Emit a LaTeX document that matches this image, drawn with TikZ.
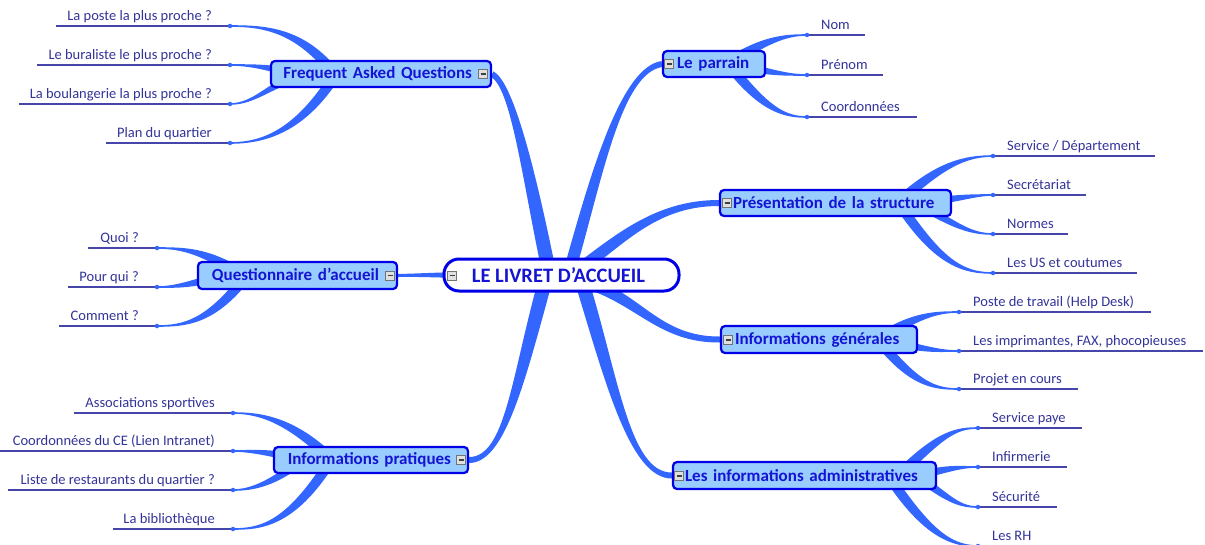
\documentclass[tikz,border=0pt]{standalone}
\usepackage{fontspec}
\setmainfont{Carlito}
\usetikzlibrary{calc,backgrounds}
\definecolor{br}{RGB}{51,102,255}
\definecolor{nfill}{RGB}{153,204,255}
\definecolor{nbord}{RGB}{0,0,230}
\definecolor{ntext}{RGB}{20,20,210}
\definecolor{ltext}{RGB}{51,51,153}
\definecolor{lline}{RGB}{70,70,170}
\newcommand\tbranch[6]{\fill[br] ($#1!#5!90:#2$) .. controls ($#2!#5!-90:#1$) and ($#3!#6!90:#4$) .. ($#4!#6!-90:#3$) -- ($#4!#6!90:#3$) .. controls ($#3!#6!-90:#4$) and ($#2!#5!90:#1$) .. ($#1!#5!-90:#2$) -- cycle;}
\begin{document}
\begin{tikzpicture}[x=1pt,y=-1pt,
  mainnode/.style={draw=nbord, line width=2.2pt, fill=nfill, rounded corners=4pt, text=ntext,
     font=\fontsize{17}{19}\selectfont\bfseries, inner xsep=2pt, inner ysep=0pt},
  centernode/.style={draw=nbord, line width=3pt, fill=white, rounded corners=15pt, text=ntext,
     font=\fontsize{20.5}{22}\selectfont\bfseries, minimum width=235pt, minimum height=32pt, inner sep=0pt},
  leaf/.style={text=ltext, font=\fontsize{14.5}{16}\selectfont, inner sep=0pt},
  dot/.style={circle, fill=br, inner sep=0pt, minimum size=4.5pt},
  leafline/.style={draw=lline, line width=1.3pt},
  mbox/.style={draw=black!55, fill=black!12, line width=0.8pt, minimum size=9pt, inner sep=0pt,
     path picture={\draw[black!75,line width=1.3pt] ($(path picture bounding box.west)+(2,0)$) -- ($(path picture bounding box.east)+(-2,0)$);}}
]
\useasboundingbox (0,0) rectangle (1205,544);

% central node
\node[centernode] (c) at (561.5,275) {\hspace*{-6pt}LE LIVRET D'ACCUEIL};
\node[mbox] (cm) at (452,275.5) {};

% main nodes
\node[mainnode, minimum height=26pt, text width=216pt, align=right] (faq) at (381,74) {Frequent Asked Questions\hspace*{17pt}};
\node[mainnode, minimum height=26pt, text width=98pt, align=left] (par) at (714,64) {\hspace*{12pt}Le parrain};
\node[mainnode, minimum height=26pt, text width=227pt, align=left] (pres) at (835.5,203) {\hspace*{11pt}Présentation de la structure};
\node[mainnode, minimum height=27pt, text width=192pt, align=left] (gen) at (819,339.5) {\hspace*{12pt}Informations générales};
\node[mainnode, minimum height=27pt, text width=259pt, align=left] (adm) at (804.5,475.5) {\hspace*{10pt}Les informations administratives};
\node[mainnode, minimum height=27pt, text width=195pt, align=right] (q) at (297.5,275.5) {Questionnaire d'accueil\hspace*{16pt}};
\node[mainnode, minimum height=26pt, text width=190pt, align=right] (prat) at (371,460) {Informations pratiques\hspace*{15pt}};

\node[mbox] (faqm) at (483,74) {};
\node[mbox] (parm) at (669,64) {};
\node[mbox] (presm) at (727,203) {};
\node[mbox] (genm) at (728,340) {};
\node[mbox] (admm) at (679,476) {};
\node[mbox] (qm) at (390,275.5) {};
\node[mbox] (pratm) at (461,460) {};

% left leaves
\foreach \n/\x/\y/\s/\t in {
 fa/230/26/56/{La poste la plus proche ?},
 fb/230/65/37/{Le buraliste le plus proche ?},
 fc/230/104/19/{La boulangerie la plus proche ?},
 fd/230/143/106/{Plan du quartier},
 qa/157/248/88/{Quoi ?},
 qb/157/287/68/{Pour qui ?},
 qc/157/326/59/{Comment ?},
 ra/233/413/74/{Associations sportives},
 rb/233/451/0/{Coordonnées du CE (Lien Intranet)},
 rc/233/490/8/{Liste de restaurants du quartier ?},
 rd/233/529/113/{La bibliothèque}}
{\coordinate (e\n) at (\s,\y);
 \draw[leafline] (e\n) -- (\x,\y);
 \node[dot] (\n) at (\x,\y) {};
 \node[leaf, anchor=base east] (t\n) at (\x-18,\y-6) {\t};}

% right leaves
\foreach \n/\x/\y/\s/\t in {
 pa/807/35/865/{Nom},
 pb/807/75/883/{Prénom},
 pc/807/117/917/{Coordonnées},
 sa/993/156/1155/{Service / Département},
 sb/993/195/1086/{Secrétariat},
 sc/993/234/1068/{Normes},
 sd/993/273/1137/{Les US et coutumes},
 ga/959/312/1151/{Poste de travail (Help Desk)},
 gb/959/351/1203/{Les imprimantes, FAX, phocopieuses},
 gc/959/389/1078/{Projet en cours},
 aa/978/428/1082/{Service paye},
 ab/978/467/1067/{Infirmerie},
 ac/978/507/1057/{Sécurité},
 ad/978/546/1045/{Les RH}}
{\coordinate (e\n) at (\s,\y);
 \draw[leafline] (\x,\y) -- (e\n);
 \node[dot] (\n) at (\x,\y) {};
 \node[leaf, anchor=base west] (t\n) at (\x+14,\y-6) {\t};}

\begin{scope}[on background layer]
% central branches
\tbranch{(547,262)}{(528,170)}{(512,85)}{(faq.east)}{7pt}{3pt}
\tbranch{(572,262)}{(598,170)}{(622,70)}{(par.west)}{6pt}{3pt}
\tbranch{(585,265)}{(625,235)}{(660,203)}{(pres.west)}{6pt}{3pt}
\tbranch{(588,283)}{(640,300)}{(660,340)}{(gen.west)}{6pt}{3pt}
\tbranch{(582,282)}{(612,380)}{(630,476)}{(adm.west)}{7pt}{3pt}
\tbranch{(545,282)}{(518,380)}{(505,460)}{(prat.east)}{7pt}{3pt}
\tbranch{(470,275)}{(445,275)}{(420,275)}{(q.east)}{3pt}{1.5pt}
% FAQ leaves
\tbranch{(335,74)}{(300,30)}{(265,26)}{(fa.center)}{5pt}{0.8pt}
\tbranch{(300,74)}{(270,68)}{(255,65)}{(fb.center)}{4pt}{0.8pt}
\tbranch{(300,76)}{(270,84)}{(255,104)}{(fc.center)}{4pt}{0.8pt}
\tbranch{(335,76)}{(300,130)}{(265,143)}{(fd.center)}{5pt}{0.8pt}
% parrain leaves
\tbranch{(730,62)}{(765,40)}{(785,35)}{(pa.center)}{5pt}{0.8pt}
\tbranch{(740,66)}{(770,72)}{(785,75)}{(pb.center)}{4pt}{0.8pt}
\tbranch{(730,66)}{(765,110)}{(785,117)}{(pc.center)}{5pt}{0.8pt}
% presentation leaves
\tbranch{(900,201)}{(940,165)}{(965,156)}{(sa.center)}{5pt}{0.8pt}
\tbranch{(920,203)}{(960,198)}{(975,195)}{(sb.center)}{4pt}{0.8pt}
\tbranch{(920,205)}{(955,225)}{(970,234)}{(sc.center)}{4pt}{0.8pt}
\tbranch{(900,205)}{(940,265)}{(965,273)}{(sd.center)}{5pt}{0.8pt}
% generales leaves
\tbranch{(880,338)}{(915,316)}{(935,312)}{(ga.center)}{5pt}{0.8pt}
\tbranch{(890,341)}{(925,350)}{(940,351)}{(gb.center)}{4pt}{0.8pt}
\tbranch{(880,342)}{(915,385)}{(935,389)}{(gc.center)}{5pt}{0.8pt}
% admin leaves
\tbranch{(900,474)}{(940,435)}{(955,428)}{(aa.center)}{5pt}{0.8pt}
\tbranch{(920,475)}{(950,468)}{(960,467)}{(ab.center)}{4pt}{0.8pt}
\tbranch{(920,478)}{(950,500)}{(960,507)}{(ac.center)}{4pt}{0.8pt}
\tbranch{(890,478)}{(930,538)}{(955,546)}{(ad.center)}{5pt}{0.8pt}
% questionnaire leaves
\tbranch{(240,273)}{(205,252)}{(185,248)}{(qa.center)}{5pt}{0.8pt}
\tbranch{(220,276)}{(190,285)}{(175,287)}{(qb.center)}{4pt}{0.8pt}
\tbranch{(245,278)}{(210,322)}{(185,326)}{(qc.center)}{5pt}{0.8pt}
% pratiques leaves
\tbranch{(330,458)}{(290,420)}{(260,413)}{(ra.center)}{5pt}{0.8pt}
\tbranch{(300,459)}{(270,452)}{(250,451)}{(rb.center)}{4pt}{0.8pt}
\tbranch{(300,462)}{(270,485)}{(250,490)}{(rc.center)}{4pt}{0.8pt}
\tbranch{(330,462)}{(290,525)}{(260,529)}{(rd.center)}{5pt}{0.8pt}
\end{scope}
\end{tikzpicture}
\end{document}
